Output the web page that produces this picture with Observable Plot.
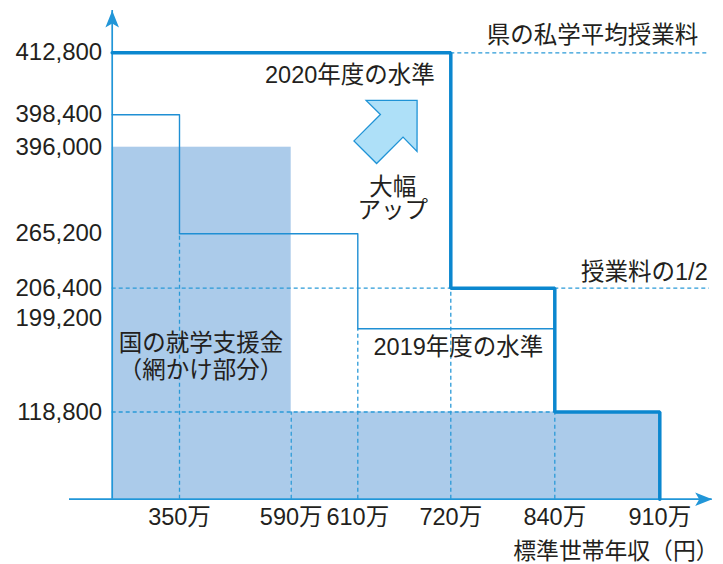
<!DOCTYPE html>
<html><head><meta charset="utf-8">
<script src="https://cdn.jsdelivr.net/npm/d3@7"></script>
<script src="https://cdn.jsdelivr.net/npm/@observablehq/plot@0.6"></script>
<style>
html,body{margin:0;padding:0;background:#fff;}
#chart svg{display:block;}
</style></head><body><div id="chart"></div>
<script>
// ---- data (income in 万円, amounts in 円) ----
const incomeTicks = [350, 590, 610, 720, 840, 910];
const incomeTickLabels = ["350万", "590万", "610万", "720万", "840万", "910万"];
const feeTicks = [412800, 398400, 396000, 265200, 206400, 199200, 118800];
const feeTickLabels = ["412,800", "398,400", "396,000", "265,200", "206,400", "199,200", "118,800"];

// 国の就学支援金 (shaded)
const supportFrom = [0, 590];
const supportTo = [590, 910];
const supportAmount = [396000, 118800];

// 2019年度の水準 (thin step line)
const level2019Income = [0, 350, 610, 840, 910];
const level2019Amount = [398400, 265200, 199200, 118800, 118800];

// 2020年度の水準 (thick step line)
const level2020Income = [0, 720, 840, 910, 910];
const level2020Amount = [412800, 206400, 118800, 118800, 0];

// reference levels
const avgTuition = 412800;      // 県の私学平均授業料
const halfTuition = 206400;     // 授業料の1/2
const guideEndIncome = 943;     // where the dashed reference lines stop

// dashed guides
const vGuideIncome = [350, 590, 610, 720, 840];
const vGuideTop = [265200, 118800, 199200, 206400, 118800];
const hGuideAmount = [118800, halfTuition, halfTuition, avgTuition];
const hGuideFrom = [0, 0, 840, 720];
const hGuideTo = [840, 720, guideEndIncome, guideEndIncome];

// ---- styles ----
const lineBlue = "#0b87cf", thinBlue = "#1f8fd4", dashBlue = "#2a9ad8", axisBlue = "#2196d8";
const fillBlue = "#abcbea", ink = "#231f20";
const font = "'Liberation Sans','Noto Sans CJK JP',sans-serif";

// custom symbols
const axisHead = {draw(ctx, size) {
  const s = Math.sqrt(size / Math.PI);
  ctx.moveTo(0, 0); ctx.lineTo(6.8 * s, 17 * s); ctx.lineTo(0, 13 * s); ctx.lineTo(-6.8 * s, 17 * s); ctx.closePath();
}};
const blockArrow = {draw(ctx, size) {
  const s = Math.sqrt(size / Math.PI);
  const pts = [[44.7, 0], [8.6, 36], [8.8, 16], [-28.6, 16], [-28.6, -16], [8.8, -16], [8.6, -36]];
  pts.forEach(([x, y], i) => i ? ctx.lineTo(x * s, y * s) : ctx.moveTo(x * s, y * s));
  ctx.closePath();
}};

const idx = a => a.map((_, i) => i);
const pts = (xs, ys) => xs.map((x, i) => ({x, y: ys[i]}));

const chart = Plot.plot({
  width: 723, height: 564,
  marginLeft: 69, marginRight: 11.3, marginTop: 10, marginBottom: 65.3,
  style: {fontFamily: font, fontSize: "23.5px", color: ink, background: "white", overflow: "visible"},
  x: {type: "linear", domain: [0, 350, 590, 610, 720, 840, 910],
      range: [111.7, 179, 290.7, 357.3, 450.3, 554.3, 659.3], axis: null},
  y: {type: "linear", domain: [0, 118800, 199200, 206400, 265200, 396000, 398400, 412800],
      range: [498.7, 411.5, 328.3, 287.7, 233.3, 146.7, 114.3, 52.3], axis: null},
  marks: [
    // shaded support area
    Plot.rect(idx(supportFrom), {x1: i => supportFrom[i], x2: i => supportTo[i], y1: 0, y2: i => supportAmount[i], fill: fillBlue}),
    // dashed guides
    Plot.ruleX(idx(vGuideIncome), {x: i => vGuideIncome[i], y1: 0, y2: i => vGuideTop[i],
      stroke: dashBlue, strokeWidth: 1.3, strokeDasharray: "4,3"}),
    Plot.ruleY(idx(hGuideAmount), {y: i => hGuideAmount[i], x1: i => hGuideFrom[i], x2: i => hGuideTo[i],
      stroke: dashBlue, strokeWidth: 1.3, strokeDasharray: "4,3"}),
    // axes
    Plot.ruleY([0], {stroke: axisBlue, strokeWidth: 1.7}),
    Plot.ruleX([0], {stroke: axisBlue, strokeWidth: 1.7}),
    Plot.dot([0], {x: d => d, frameAnchor: "top", symbol: axisHead, r: 1, fill: axisBlue, stroke: null}),
    Plot.dot([0], {y: d => d, frameAnchor: "right", rotate: 90, symbol: axisHead, r: 1, fill: axisBlue, stroke: null}),
    // 2019 level
    Plot.line(pts(level2019Income, level2019Amount), {x: "x", y: "y", curve: "step-after", stroke: thinBlue, strokeWidth: 1.4}),
    // 2020 level
    Plot.line(pts(level2020Income, level2020Amount), {x: "x", y: "y", curve: "step-after", stroke: lineBlue, strokeWidth: 3.5, strokeLinejoin: "miter"}),
    // big arrow
    Plot.dot([0], {x: 720, y: 398400, dx: -65.3, dy: 17.2, symbol: blockArrow, r: 1, rotate: -45,
      fill: "#aee0f8", stroke: "#1f93d6", strokeWidth: 1.3}),
    // tick labels
    Plot.text(feeTicks.filter(d => d !== 199200), {x: 0, y: d => d, text: d => feeTickLabels[feeTicks.indexOf(d)],
      textAnchor: "end", dx: -10, fontSize: 24, fill: ink}),
    Plot.text(feeTicks.filter(d => d === 199200), {x: 0, y: d => d, text: d => feeTickLabels[feeTicks.indexOf(d)],
      textAnchor: "end", dx: -10, dy: -10, fontSize: 24, fill: ink}),
    Plot.text(incomeTicks, {x: d => d, y: 0, text: (d, i) => incomeTickLabels[i], dy: 18.5, fontSize: 23.5, fill: ink}),
    // annotations
    Plot.text(["2020年度の水準"], {x: 720, y: avgTuition, text: d => d, textAnchor: "end", dx: -16, dy: 23, fill: ink}),
    Plot.text(["2019年度の水準"], {x: 840, y: 199200, text: d => d, textAnchor: "end", dx: -11.5, dy: 19, fill: ink}),
    Plot.text(["大幅\nアップ"], {x: 720, y: 398400, text: d => d, dx: -58, dy: 84, lineHeight: 1.0, fill: ink}),
    Plot.text(["国の就学支援金\n（網かけ部分）"], {x: 350, y: 199200, text: d => d, dx: 21.5, dy: 27, lineHeight: 1.16, fill: ink}),
    Plot.text(["県の私学平均授業料"], {y: avgTuition, frameAnchor: "right", text: d => d, textAnchor: "end", dx: -14, dy: -17, fill: ink}),
    Plot.text(["授業料の1/2"], {y: halfTuition, frameAnchor: "right", text: d => d, textAnchor: "end", dx: -4.5, dy: -16, fill: ink}),
    Plot.text(["標準世帯年収（円）"], {x: 840, y: 0, text: d => d, textAnchor: "start", dx: -41.5, dy: 53, fontSize: 22.8, fill: ink})
  ]
});
document.getElementById("chart").append(chart);
</script></body></html>
